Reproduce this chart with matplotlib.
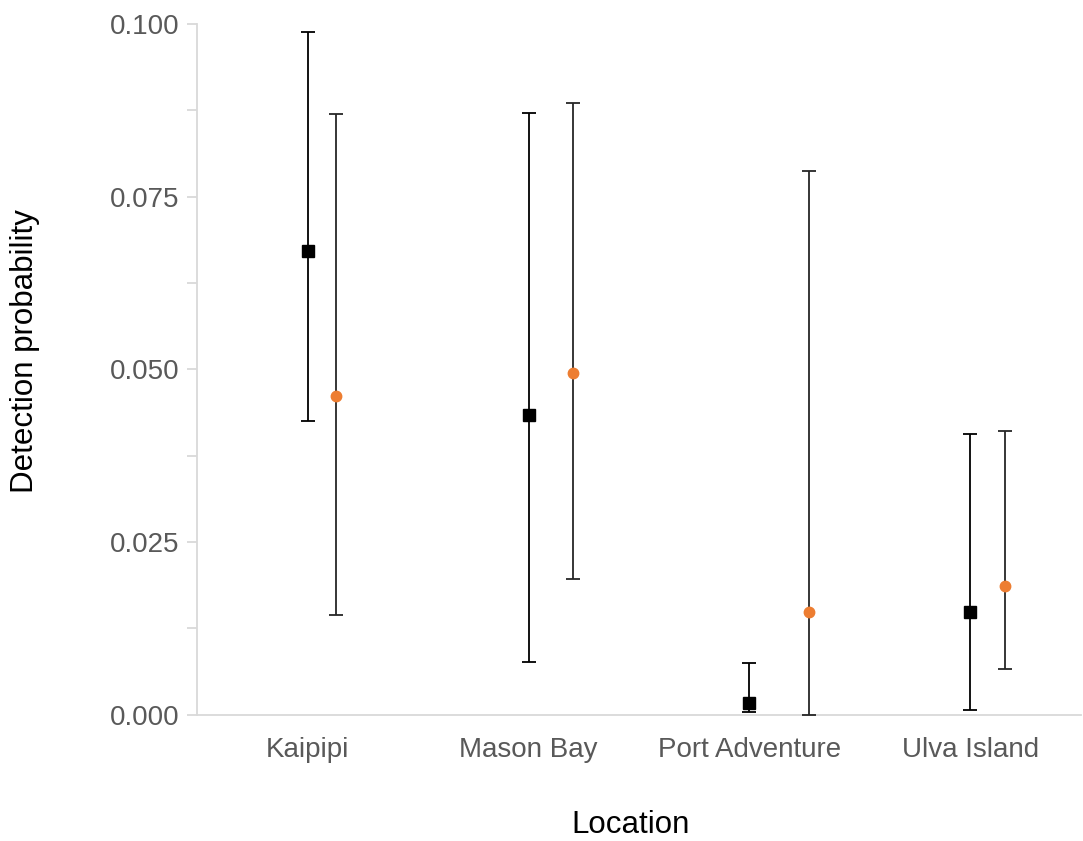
import numpy as np
import matplotlib.pyplot as plt
from matplotlib.ticker import MultipleLocator

plt.rcParams['font.family'] = ['Liberation Sans', 'DejaVu Sans']

locations = ['Kaipipi', 'Mason Bay', 'Port Adventure', 'Ulva Island']

# series 1 (black squares)
p1 = [0.0671, 0.0434, 0.0017, 0.0149]
lo1 = [0.0425, 0.0077, 0.0004, 0.0007]
hi1 = [0.0988, 0.0871, 0.0075, 0.0407]

# series 2 (orange circles)
p2 = [0.0462, 0.0495, 0.0149, 0.0187]
lo2 = [0.0145, 0.0197, 0.0000, 0.0067]
hi2 = [0.0870, 0.0886, 0.0787, 0.0411]
offset2 = [0.13, 0.20, 0.27, 0.155]

x1 = np.arange(len(locations))
x2 = x1 + np.array(offset2)
p1, lo1, hi1 = map(np.array, (p1, lo1, hi1))
p2, lo2, hi2 = map(np.array, (p2, lo2, hi2))

fig = plt.figure(figsize=(10.83, 8.41), dpi=100)
ax = fig.add_axes([0.182, 0.150, 0.816, 0.8215])

ax.errorbar(x1, p1, yerr=[p1 - lo1, hi1 - p1], fmt='s', color='black',
            ecolor='black', elinewidth=1.3, capsize=5, capthick=1.3,
            markersize=8, zorder=3)
ax.errorbar(x2, p2, yerr=[p2 - lo2, hi2 - p2], fmt='o', color='#ED7D31',
            ecolor='#262626', elinewidth=1.3, capsize=5, capthick=1.3,
            markersize=7.5, zorder=3)

ax.set_xlim(-0.5, len(locations) - 0.5)
ax.set_ylim(0, 0.1)
ax.set_xticks(x1)
ax.set_xticklabels(locations)
ax.yaxis.set_major_locator(MultipleLocator(0.025))
ax.yaxis.set_minor_locator(MultipleLocator(0.0125))
ax.set_yticklabels(['%.3f' % v for v in ax.get_yticks()])

for s in ['top', 'right']:
    ax.spines[s].set_visible(False)
for s in ['left', 'bottom']:
    ax.spines[s].set_color('#d9d9d9')
    ax.spines[s].set_linewidth(1.3)

ax.tick_params(axis='y', which='both', direction='out', color='#d9d9d9',
               width=1.3, length=7, labelsize=20, labelcolor='#595959', pad=6)
ax.tick_params(axis='x', length=0, labelsize=20, labelcolor='#595959', pad=16)

ax.set_xlabel('Location', fontsize=22.5, va='center')
ax.xaxis.set_label_coords(0.49, -0.16)
ax.set_ylabel('Detection probability', fontsize=22.5, va='center')
ax.yaxis.set_label_coords(-0.195, 0.527)

fig.savefig('out.png', dpi=100)
